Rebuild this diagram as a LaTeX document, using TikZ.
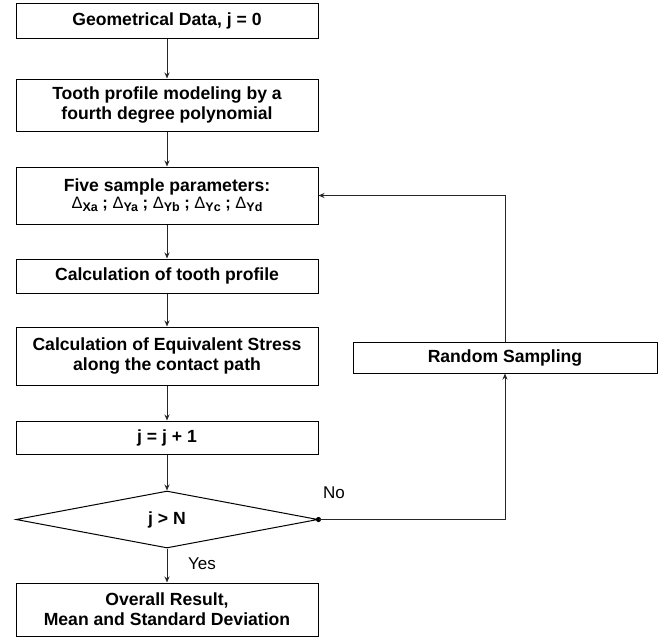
\documentclass[tikz,border=0pt]{standalone}
\usepackage{fontspec}
\setmainfont{Liberation Sans}
\usetikzlibrary{arrows.meta,shapes.geometric}
\newcommand{\dlt}[1]{{\mdseries\char"0394}\raisebox{-0.35ex}{\fontsize{12.5}{13}\selectfont\bfseries #1}}
\tikzset{
  stepbox/.style={draw=black, line width=1pt, rectangle, minimum width=302pt, inner sep=0pt,
    align=center, font=\fontsize{17.6}{20}\selectfont\bfseries},
  decbox/.style={draw=black, line width=1pt, diamond, minimum width=302pt, minimum height=57pt,
    inner sep=0pt, font=\fontsize{17.6}{20}\selectfont\bfseries},
  conn/.style={draw=black!85, line width=1pt, -{Stealth[length=6pt,width=5pt]}},
  plain/.style={draw=black!85, line width=1pt},
  lbl/.style={font=\fontsize{17}{20}\selectfont, inner sep=0pt}
}
\begin{document}
\begin{tikzpicture}[x=1pt,y=-1pt]
\useasboundingbox (0,0) rectangle (665,638);
\node[stepbox, minimum height=35pt] (b1) at (167,20.5) {Geometrical Data, j = 0};
\node[stepbox, minimum height=52pt] (b2) at (167,105) {Tooth profile modeling by a\\fourth degree polynomial};
\node[stepbox, minimum height=57pt] (b3) at (167,195.5) {Five sample parameters:\\[-3pt]{\fontsize{16.5}{17}\selectfont\dlt{Xa} ; \dlt{Ya} ; \dlt{Yb} ; \dlt{Yc} ; \dlt{Yd}}};
\node[stepbox, minimum height=34pt] (b4) at (167,276) {Calculation of tooth profile};
\node[stepbox, minimum height=58pt] (b5) at (167,356) {Calculation of Equivalent Stress\\along the contact path};
\node[stepbox, minimum height=33pt] (b6) at (167,437.5) {j = j + 1};
\node[decbox] (d) at (167,519.5) {j > N};
\node[stepbox, minimum height=53pt] (b7) at (167,609.5) {Overall Result,\\Mean and Standard Deviation};
\node[stepbox, minimum width=304pt, minimum height=31pt] (rs) at (505,357.5) {Random Sampling};
\coordinate (corner) at (505,519.5);
\draw[conn] (b1) -- (b2);
\draw[conn] (b2) -- (b3);
\draw[conn] (b3) -- (b4);
\draw[conn] (b4) -- (b5);
\draw[conn] (b5) -- (b6);
\draw[conn] (b6) -- (d);
\draw[conn] (d.south) -- (b7.north);
\node[lbl] (yes) at (202,564) {Yes};
\node[lbl] (no) at (334,493) {No};
\fill[black] (d.east) circle (2.6pt);
\draw[plain] (d.east) -- (corner);
\draw[conn] (corner) -- (rs.south);
\draw[conn] (rs.north) |- (b3.east);
\end{tikzpicture}
\end{document}
